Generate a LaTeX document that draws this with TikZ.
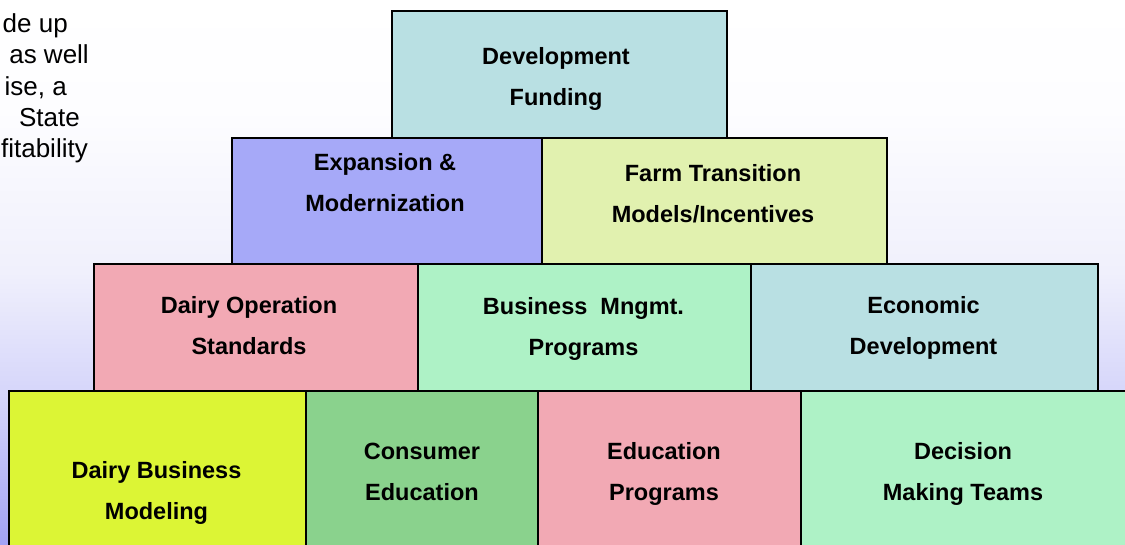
\documentclass[tikz,border=0pt]{standalone}
\usepackage{fontspec}
\setmainfont{Liberation Sans}
\definecolor{bgA}{RGB}{162,162,245}
\definecolor{bgB}{RGB}{214,214,250}
\definecolor{bgC}{RGB}{240,240,252}
\definecolor{bgD}{RGB}{253,253,255}
\definecolor{cyanish}{RGB}{185,224,227}
\definecolor{lavbox}{RGB}{166,169,248}
\definecolor{paleyel}{RGB}{225,241,175}
\definecolor{pinkbox}{RGB}{242,169,180}
\definecolor{mintbox}{RGB}{174,242,198}
\definecolor{limebox}{RGB}{220,245,53}
\definecolor{greenbox}{RGB}{138,210,141}
\pgfdeclareverticalshading{bgshade}{100bp}{color(0bp)=(bgA); color(25bp)=(bgA); color(39bp)=(bgB); color(50bp)=(bgC); color(65bp)=(bgD); color(75bp)=(white); color(100bp)=(white)}
\tikzset{
  block/.style={draw=black, line width=1.7pt, inner sep=0pt, anchor=north west, rectangle},
  lbl/.style={anchor=base, inner sep=0pt, font={\fontsize{23.5}{41}\selectfont\bfseries}},
  sidetext/.style={anchor=base east, inner sep=0pt, font={\fontsize{26}{31}\selectfont}}
}
\newcommand{\twolines}[2]{\begin{tabular}[t]{@{}c@{}}#1\\#2\end{tabular}}
\begin{document}
\begin{tikzpicture}[x=1pt,y=-1pt]
\useasboundingbox (0,0) rectangle (1125,544);
\clip (0,0) rectangle (1125,544);
\shade[shading=bgshade] (0,0) rectangle (1125,544);
% left clipped text
\node[sidetext] (s1) at (68,32) {de up};
\node[sidetext] (s2) at (89,63.5) {as well};
\node[sidetext] (s3) at (67,95) {ise, a};
\node[sidetext] (s4) at (80,126) {State};
\node[sidetext] (s5) at (88,157) {fitability};
% row 4
\node[block, fill=limebox, minimum width=297pt, minimum height=170pt] (dbm) at (8,390) {};
\node[block, fill=greenbox, minimum width=232pt, minimum height=170pt] (con) at (305,390) {};
\node[block, fill=pinkbox, minimum width=263pt, minimum height=170pt] (edu) at (537,390) {};
\node[block, fill=mintbox, minimum width=340pt, minimum height=170pt] (dec) at (800,390) {};
% row 3
\node[block, fill=pinkbox, minimum width=324pt, minimum height=127pt] (dop) at (93,263) {};
\node[block, fill=mintbox, minimum width=333pt, minimum height=127pt] (bus) at (417,263) {};
\node[block, fill=cyanish, minimum width=347pt, minimum height=127pt] (eco) at (750,263) {};
% row 2
\node[block, fill=lavbox, minimum width=310pt, minimum height=126pt] (exp) at (231,137) {};
\node[block, fill=paleyel, minimum width=345pt, minimum height=126pt] (farm) at (541,137) {};
% row 1
\node[block, fill=cyanish, minimum width=335pt, minimum height=127pt] (dev) at (391,10) {};
% labels
\node[lbl] (devt) at (556,64) {\twolines{Development}{Funding}};
\node[lbl] (expt) at (385,170) {\twolines{Expansion \&}{Modernization}};
\node[lbl] (farmt) at (713,181) {\twolines{Farm Transition}{Models/Incentives}};
\node[lbl] (dopt) at (249,313.5) {\twolines{Dairy Operation}{Standards}};
\node[lbl] (bust) at (583.5,314) {\twolines{Business\ \ Mngmt.}{Programs}};
\node[lbl] (ecot) at (923.5,313) {\twolines{Economic}{Development}};
\node[lbl] (dbmt) at (156.5,478) {\twolines{Dairy Business}{Modeling}};
\node[lbl] (cont) at (422,459) {\twolines{Consumer}{Education}};
\node[lbl] (edut) at (664,459.5) {\twolines{Education}{Programs}};
\node[lbl] (dect) at (963,459) {\twolines{Decision}{Making Teams}};
\end{tikzpicture}
\end{document}
